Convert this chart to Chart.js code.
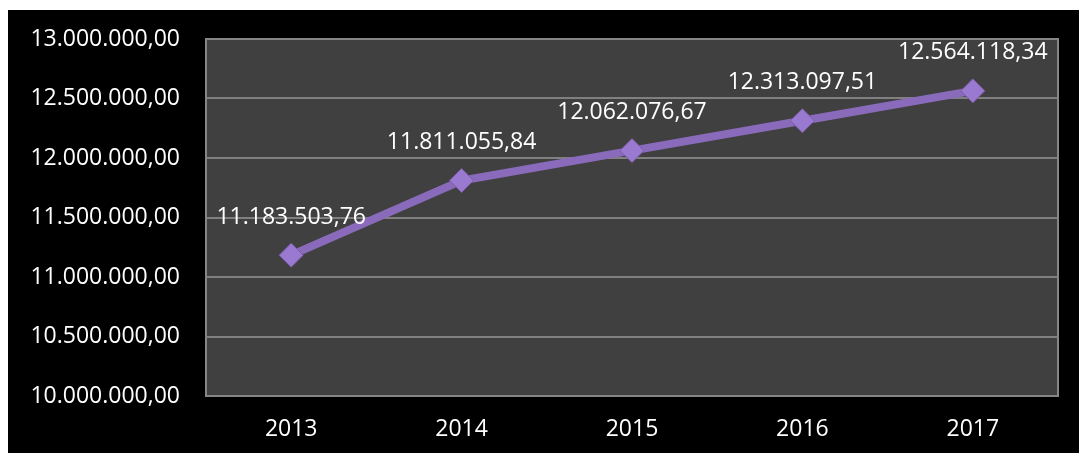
<!DOCTYPE html>
<html>
<head>
<meta charset="utf-8">
<script src="https://cdn.jsdelivr.net/npm/chart.js@4.4.1/dist/chart.umd.min.js"></script>
<style>
  html, body { margin: 0; padding: 0; background: #ffffff; }
  #wrap { position: absolute; left: 8px; top: 10px; width: 1071px; height: 443px; background: #000000; }
</style>
</head>
<body>
<div id="wrap"><canvas id="grafico"></canvas></div>
<script>
const anios = ['2013', '2014', '2015', '2016', '2017'];
const valores = [11183503.76, 11811055.84, 12062076.67, 12313097.51, 12564118.34];
const ejeMin = 10000000;
const ejeMax = 13000000;
const ejePaso = 500000;

// 12564118.34 -> "12.564.118,34"
function formato(n) {
    let partes = n.toFixed(2).split('.');
    let entero = partes[0].replace(/\B(?=(\d{3})+(?!\d))/g, '.');
    return entero + ',' + partes[1];
}

const fuente = { family: "'Open Sans', 'Noto Sans', sans-serif", size: 23 };

// fondo gris del area de trazado y su marco
const fondoPlot = {
    id: 'fondoPlot',
    beforeDraw(chart) {
        let a = chart.chartArea;
        let c = chart.ctx;
        c.save();
        c.fillStyle = '#404040';
        c.fillRect(a.left, a.top, a.right - a.left, a.bottom - a.top);
        c.restore();
    },
    afterDraw(chart) {
        let a = chart.chartArea;
        let c = chart.ctx;
        c.save();
        c.strokeStyle = '#868686';
        c.lineWidth = 2;
        c.strokeRect(a.left, a.top, a.right - a.left, a.bottom - a.top);
        c.restore();
    }
};

// etiquetas de valor encima de cada punto
const etiquetas = {
    id: 'etiquetas',
    afterDatasetsDraw(chart) {
        let c = chart.ctx;
        let meta = chart.getDatasetMeta(0);
        c.save();
        c.font = fuente.size + 'px ' + fuente.family;
        c.fillStyle = '#ffffff';
        c.textAlign = 'center';
        c.textBaseline = 'middle';
        meta.data.forEach((p, i) => {
            c.fillText(formato(valores[i]), p.x, p.y - 38);
        });
        c.restore();
    }
};

let ctx = document.getElementById('grafico').getContext('2d');

let miGrafico = new Chart(ctx, {
    type: 'line',
    data: {
        labels: anios,
        datasets: [{
            data: valores,
            borderColor: '#8a6bbb',
            borderWidth: 8,
            pointStyle: 'rectRot',
            pointRadius: 12,
            pointBackgroundColor: '#9a7ad0',
            pointBorderColor: '#7a5aa8',
            pointBorderWidth: 1,
            tension: 0
        }]
    },
    options: {
        responsive: true,
        maintainAspectRatio: false,
        animation: false,
        layout: { padding: { top: 29, right: 21, left: 0, bottom: 0 } },
        plugins: {
            legend: { display: false },
            tooltip: { enabled: false }
        },
        scales: {
            x: {
                offset: true,
                grid: { display: false, drawTicks: false },
                border: { display: false },
                ticks: { color: '#ffffff', font: fuente, padding: 20 },
                afterFit(scale) {
                    scale.height = 57;
                    scale.paddingLeft = 0;
                    scale.paddingRight = 0;
                }
            },
            y: {
                min: ejeMin,
                max: ejeMax,
                grid: { color: '#808080', lineWidth: 2, drawTicks: false },
                border: { display: false },
                ticks: {
                    stepSize: ejePaso,
                    color: '#ffffff',
                    font: fuente,
                    padding: 26,
                    callback: v => formato(v)
                },
                afterFit(scale) {
                    scale.width = 198;
                    scale.paddingTop = 0;
                    scale.paddingBottom = 0;
                }
            }
        }
    },
    plugins: [fondoPlot, etiquetas]
});
</script>
</body>
</html>
